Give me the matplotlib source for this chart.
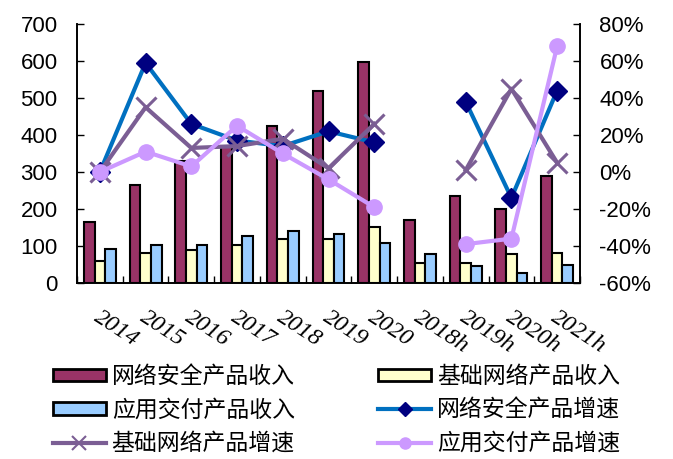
import numpy as np
import matplotlib
matplotlib.use("Agg")
import matplotlib.pyplot as plt
from matplotlib.patches import Patch
from matplotlib.lines import Line2D

categories = ["2014", "2015", "2016", "2017", "2018", "2019", "2020",
              "2018h", "2019h", "2020h", "2021h"]
sec_rev = [165, 265, 330, 370, 425, 518, 598, 170, 235, 200, 290]
base_rev = [60, 80, 90, 103, 120, 120, 152, 53, 55, 78, 80]
app_rev = [93, 103, 103, 127, 140, 133, 107, 78, 47, 28, 50]
sec_growth = [0, 59, 26, 17, 14, 22, 16, np.nan, 38, -14, 44]
base_growth = [0, 35, 13, 14, 18, 2, 26, np.nan, 1, 45, 5]
app_growth = [0, 11, 3, 25, 10, -4, -19, np.nan, -39, -36, 68]

c_red = "#993366"
c_yel = "#FFFFCC"
c_blu = "#99CCFF"
c_line_blue = "#0070C0"
c_navy = "#000080"
c_purp = "#7B5E94"
c_lpurp = "#CC99FF"

plt.rcParams['font.family'] = ['Liberation Sans', 'DejaVu Sans']

fig = plt.figure(figsize=(6.73, 4.59), dpi=100)
ax = fig.add_axes([77/673, 1-283/459, (580-77)/673, (283-24)/459])
ax2 = ax.twinx()

x = np.arange(len(categories))
w = 0.233
ax.bar(x - w, sec_rev, w, color=c_red, edgecolor="black", linewidth=1.5, zorder=2)
ax.bar(x, base_rev, w, color=c_yel, edgecolor="black", linewidth=1.5, zorder=2)
ax.bar(x + w, app_rev, w, color=c_blu, edgecolor="black", linewidth=1.5, zorder=2)

ax2.plot(x, sec_growth, color=c_line_blue, lw=3, marker="D", ms=10,
         mfc=c_navy, mec=c_navy, zorder=3)
ax2.plot(x, base_growth, color=c_purp, lw=3, marker="x", ms=14, mew=2.2,
         mec=c_purp, zorder=4)
ax2.plot(x, app_growth, color=c_lpurp, lw=3, marker="o", ms=11,
         mfc=c_lpurp, mec=c_lpurp, zorder=5)

ax.set_xlim(-0.5, len(categories) - 0.5)
ax.set_ylim(0, 700)
ax.set_yticks(np.arange(0, 701, 100))
ax2.set_ylim(-60, 80)
ax2.set_yticks(np.arange(-60, 81, 20))
ax2.set_yticklabels([f"{v}%" for v in range(-60, 81, 20)])

ax.set_xticks(x)
ax.set_xticklabels([])
ax.tick_params(axis="x", length=0)
ax.set_xticks(np.arange(-0.5, len(categories), 1), minor=True)
ax.tick_params(axis="x", which="minor", direction="in", length=5, width=1)

for xi, lab in zip(x, categories):
    ax.text(xi + 0.04, -0.09, lab, transform=ax.get_xaxis_transform(),
            rotation=-33, rotation_mode="anchor", ha="left", va="top",
            fontsize=17.5, family=["Liberation Serif"], style="italic")

ax.tick_params(axis="y", direction="in", length=5, width=1, labelsize=16, pad=14)
ax2.tick_params(axis="y", direction="in", length=5, width=1, labelsize=16, pad=14)
for a in (ax, ax2):
    a.spines["top"].set_visible(False)
    for s in ("left", "right", "bottom"):
        a.spines[s].set_linewidth(1.2)

handles = [
    Patch(facecolor=c_red, edgecolor="black", linewidth=2),
    Patch(facecolor=c_blu, edgecolor="black", linewidth=2),
    Line2D([], [], color=c_purp, lw=3, marker="x", ms=10, mew=1.5),
    Patch(facecolor=c_yel, edgecolor="black", linewidth=2),
    Line2D([], [], color=c_line_blue, lw=3, marker="D", ms=7, mfc=c_navy, mec=c_navy),
    Line2D([], [], color=c_lpurp, lw=3, marker="o", ms=8, mfc=c_lpurp, mec=c_lpurp),
]
labels = ["网络安全产品收入", "应用交付产品收入", "基础网络产品增速",
          "基础网络产品收入", "网络安全产品增速", "应用交付产品增速"]
fig.legend(handles, labels, ncol=2, loc="upper left",
           bbox_to_anchor=(53/673, 1-365/459), frameon=False,
           prop={"family": ["Noto Sans CJK SC"], "size": 16.5},
           handlelength=2.3, handleheight=0.45, handletextpad=0.26,
           columnspacing=3.65, labelspacing=0.46, borderpad=0, borderaxespad=0)

fig.savefig("out.png", dpi=100)
